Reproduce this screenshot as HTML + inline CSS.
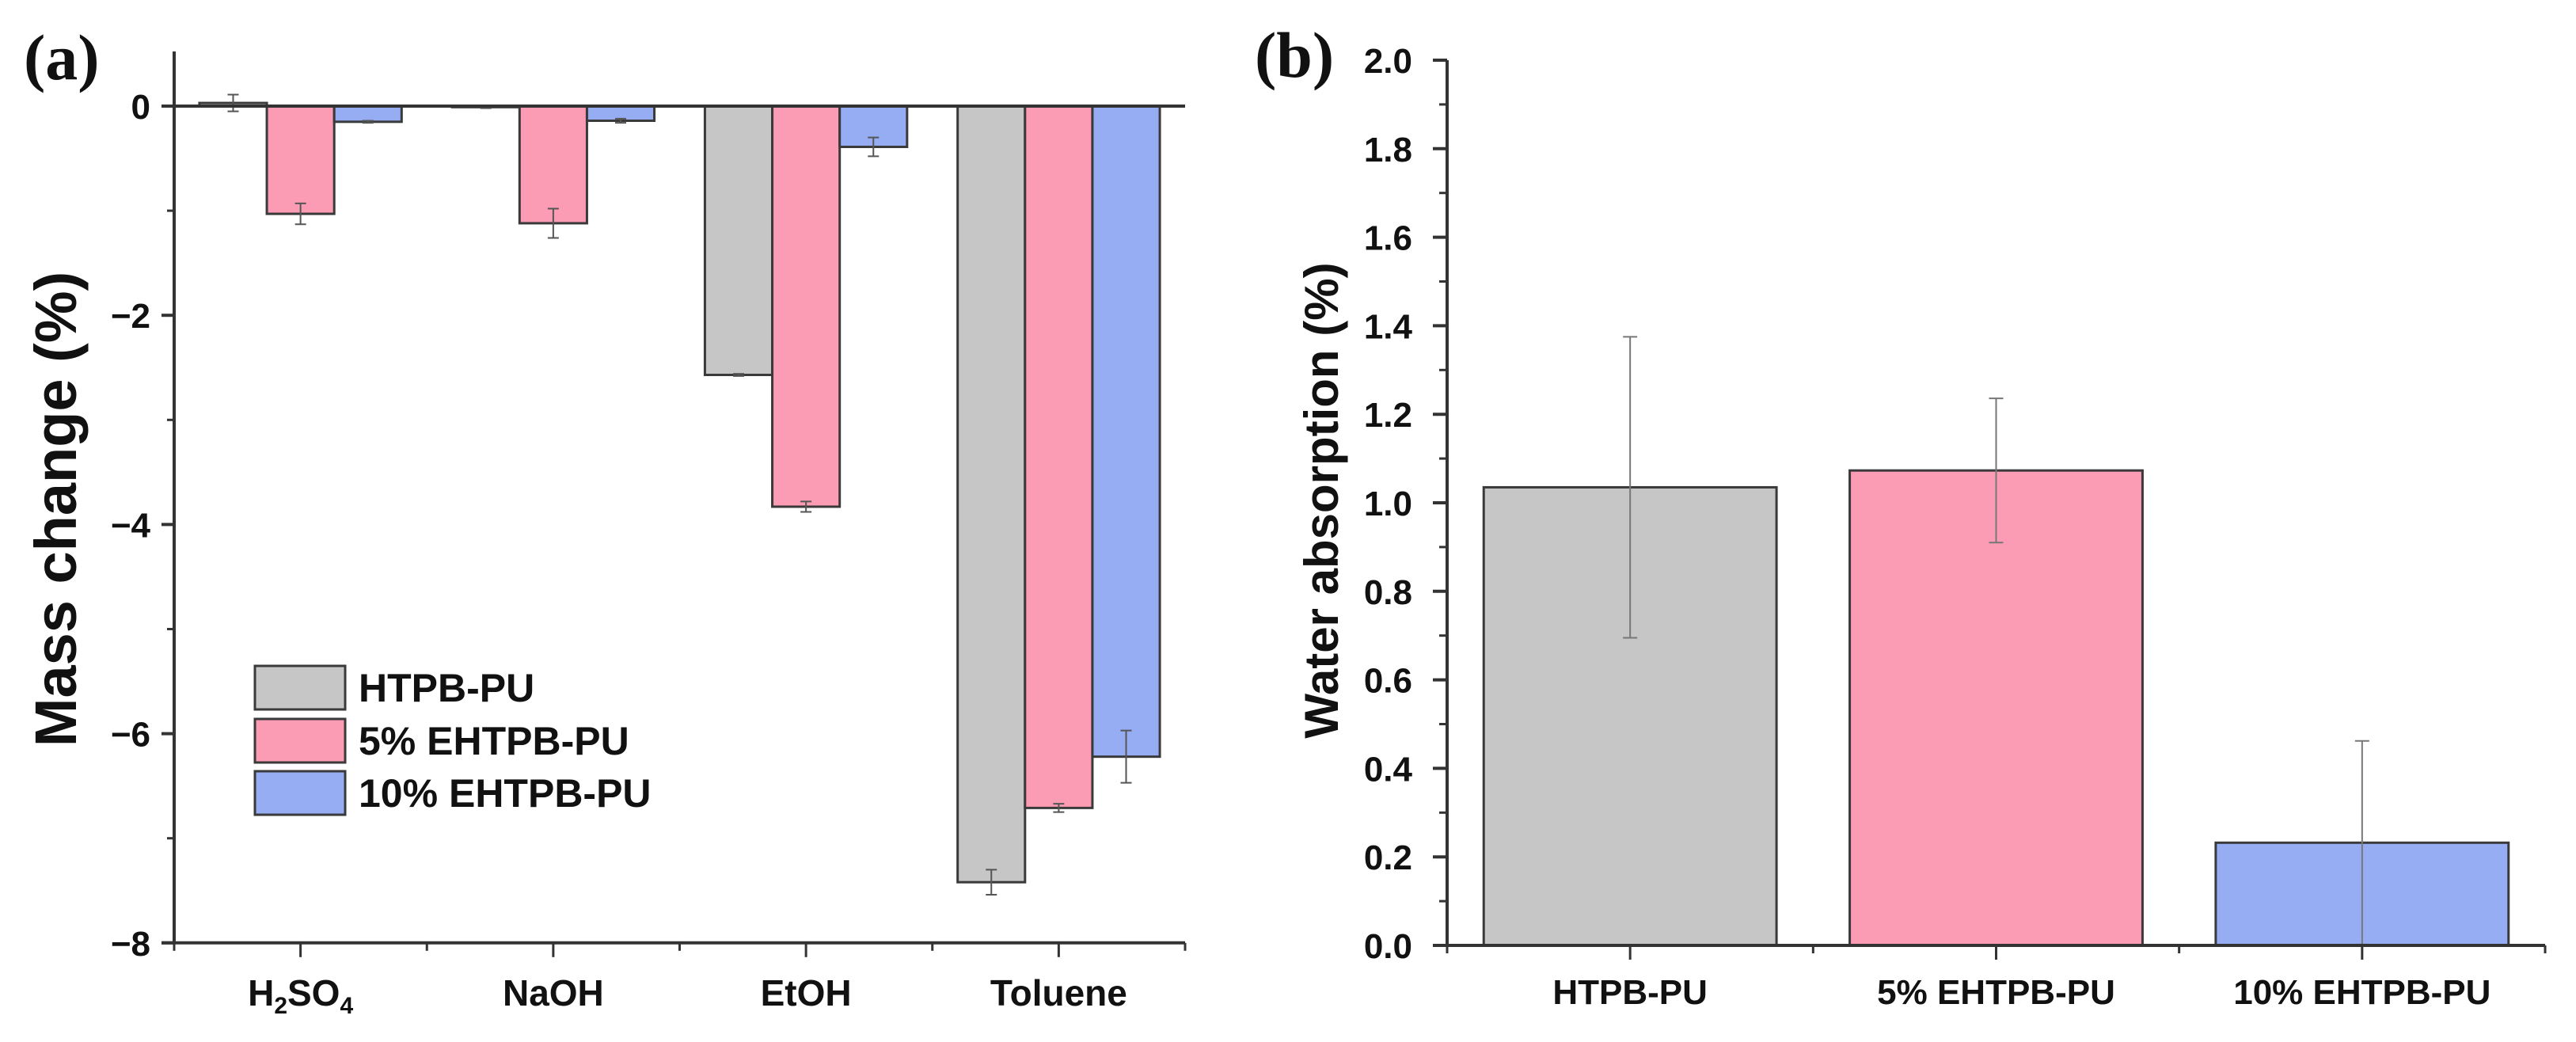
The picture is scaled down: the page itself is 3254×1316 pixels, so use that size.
<!DOCTYPE html>
<html><head><meta charset="utf-8"><style>
html,body{margin:0;padding:0;background:#fff;}
svg{display:block;}
text{font-family:"Liberation Sans",sans-serif;font-weight:bold;fill:#111;}
</style></head><body>
<svg id="fig" width="3254" height="1316" viewBox="0 0 3254 1316" xmlns="http://www.w3.org/2000/svg">
<text x="30" y="100" style="font-family:'Liberation Serif',serif;font-size:82px;">(a)</text>
<text x="1585" y="97" style="font-family:'Liberation Serif',serif;font-size:82px;">(b)</text>
<g id="pa"></g>
<g id="pb"></g>
</svg>
<script>
// Panel (a) data
const catsA = ["H2SO4", "NaOH", "EtOH", "Toluene"];
const seriesNames = ["HTPB-PU", "5% EHTPB-PU", "10% EHTPB-PU"];
const htpbA = [0.03, -0.01, -2.57, -7.42];
const eh5A = [-1.03, -1.12, -3.83, -6.71];
const eh10A = [-0.15, -0.14, -0.39, -6.22];
const htpbErrA = [0.08, 0.01, 0.01, 0.12];
const eh5ErrA = [0.10, 0.14, 0.05, 0.04];
const eh10ErrA = [0.01, 0.02, 0.09, 0.25];
const ticksA = [0, -2, -4, -6, -8];
// Panel (b) data
const catsB = ["HTPB-PU", "5% EHTPB-PU", "10% EHTPB-PU"];
const valsB = [1.035, 1.073, 0.232];
const errsB = [0.34, 0.163, 0.23];
const ticksB = [0.0, 0.2, 0.4, 0.6, 0.8, 1.0, 1.2, 1.4, 1.6, 1.8, 2.0];

const NS = "http://www.w3.org/2000/svg";
const colors = ["#c6c6c6", "#fc9cb4", "#96adf4"];
function mk(parent, tag, attrs, txt) {
  const e = document.createElementNS(NS, tag);
  for (const k in attrs) e.setAttribute(k, attrs[k]);
  if (txt !== undefined) e.textContent = txt;
  parent.appendChild(e);
  return e;
}

// ---------- Panel A ----------
const pa = document.getElementById('pa');
const aX0 = 220, aX1 = 1497, aYTop = 65;
const yA = v => 134 + (0 - v) * 132.1;
const bandA = (aX1 - aX0) / catsA.length;
const xA = i => aX0 + bandA * (i + 0.5);
const seriesA = [htpbA, eh5A, eh10A];
const errA = [htpbErrA, eh5ErrA, eh10ErrA];
const bwA = bandA * 0.8 / 3;
for (let s = 0; s < 3; s++) {
  for (let i = 0; i < catsA.length; i++) {
    const v = seriesA[s][i];
    const x = xA(i) - bandA * 0.4 + s * bwA;
    const y1 = Math.min(yA(v), yA(0)), h = Math.abs(yA(v) - yA(0));
    const r = mk(pa, 'rect', {x: x, y: y1, width: bwA, height: Math.max(h, 1), fill: colors[s], stroke: '#3a3a3a', 'stroke-width': 3});
    
    
    const cx = x + bwA / 2, e = errA[s][i];
    const g = mk(pa, 'path', {d: `M${cx},${yA(v + e)}V${yA(v - e)}M${cx - 7},${yA(v + e)}h14M${cx - 7},${yA(v - e)}h14`, stroke: '#555', 'stroke-width': 2, fill: 'none'});
    
    
  }
}
let ax = mk(pa, 'path', {d: `M${aX0},${aYTop}V${yA(-8)}M${aX0 - 16},${yA(-8)}H${aX1}M${aX0 - 16},${yA(0)}H${aX1}`, stroke: '#333', 'stroke-width': 4, fill: 'none'});


ticksA.forEach(t => {
  mk(pa, 'line', {x1: aX0 - 16, x2: aX0, y1: yA(t), y2: yA(t), stroke: '#333', 'stroke-width': 4});
  const lb = mk(pa, 'text', {x: 190, y: yA(t) + 16, 'text-anchor': 'end', 'font-size': 44}, t === 0 ? '0' : '\u2212' + Math.abs(t));
  
  
});
[-1, -3, -5, -7].forEach(t => mk(pa, 'line', {x1: aX0 - 9, x2: aX0, y1: yA(t), y2: yA(t), stroke: '#333', 'stroke-width': 3}));
for (let i = 0; i <= catsA.length; i++) {
  mk(pa, 'line', {x1: aX0 + bandA * i, x2: aX0 + bandA * i, y1: yA(-8), y2: yA(-8) + 10, stroke: '#333', 'stroke-width': 3});
}
catsA.forEach((c, i) => {
  mk(pa, 'line', {x1: xA(i), x2: xA(i), y1: yA(-8), y2: yA(-8) + 18, stroke: '#333', 'stroke-width': 3});
  const t = mk(pa, 'text', {x: xA(i), y: 1270, 'text-anchor': 'middle', 'font-size': 46});
  if (c === 'H2SO4') {
    mk(t, 'tspan', {}, 'H');
    mk(t, 'tspan', {'font-size': 30, dy: 10}, '2');
    mk(t, 'tspan', {dy: -10}, 'SO');
    mk(t, 'tspan', {'font-size': 30, dy: 10}, '4');
  } else t.textContent = c;
  
  
});
const ytA = mk(pa, 'text', {x: 0, y: 0, transform: 'translate(96,643) rotate(-90)', 'text-anchor': 'middle', 'font-size': 74}, 'Mass change (%)');


const legY = [841, 908, 974];
seriesNames.forEach((n, s) => {
  const r = mk(pa, 'rect', {x: 322, y: legY[s], width: 114, height: 55, fill: colors[s], stroke: '#3a3a3a', 'stroke-width': 3});
  
  
  const t = mk(pa, 'text', {x: 453, y: legY[s] + 45, 'font-size': 50}, n);
  
  
});

// ---------- Panel B ----------
const pb = document.getElementById('pb');
const bX0 = 1828, bX1 = 3215;
const yB = v => 1194 - v * 559;
const bandB = (bX1 - bX0) / catsB.length;
const xB = i => bX0 + bandB * (i + 0.5);
catsB.forEach((c, i) => {
  const bw = bandB * 0.8;
  const r = mk(pb, 'rect', {x: xB(i) - bw / 2, y: yB(valsB[i]), width: bw, height: yB(0) - yB(valsB[i]), fill: colors[i], stroke: '#3a3a3a', 'stroke-width': 3});
  
  
  const v = valsB[i], e = errsB[i], cx = xB(i);
  const g = mk(pb, 'path', {d: `M${cx},${yB(v + e)}V${yB(Math.max(v - e, 0))}M${cx - 9},${yB(v + e)}h18M${cx - 9},${yB(Math.max(v - e, 0))}h18`, stroke: '#777', 'stroke-width': 2, fill: 'none'});
  
  
  mk(pb, 'line', {x1: cx, x2: cx, y1: yB(0), y2: yB(0) + 18, stroke: '#333', 'stroke-width': 3});
  const t = mk(pb, 'text', {x: cx, y: 1268, 'text-anchor': 'middle', 'font-size': 44}, c);
  
  
});
for (let i = 0; i <= catsB.length; i++) mk(pb, 'line', {x1: bX0 + bandB * i, x2: bX0 + bandB * i, y1: yB(0), y2: yB(0) + 10, stroke: '#333', 'stroke-width': 3});
const axb = mk(pb, 'path', {d: `M${bX0},${yB(2)}V${yB(0)}H${bX1}`, stroke: '#333', 'stroke-width': 4, fill: 'none'});


ticksB.forEach(t => {
  mk(pb, 'line', {x1: bX0 - 18, x2: bX0, y1: yB(t), y2: yB(t), stroke: '#333', 'stroke-width': 4});
  if (t < 2) mk(pb, 'line', {x1: bX0 - 10, x2: bX0, y1: yB(t + 0.1), y2: yB(t + 0.1), stroke: '#333', 'stroke-width': 3});
  const lb = mk(pb, 'text', {x: 1784, y: yB(t) + 16, 'text-anchor': 'end', 'font-size': 44}, t.toFixed(1));
  
  
});
const ytB = mk(pb, 'text', {x: 0, y: 0, transform: 'translate(1690,632) rotate(-90)', 'text-anchor': 'middle', 'font-size': 60}, 'Water absorption (%)');


</script>
</body></html>
